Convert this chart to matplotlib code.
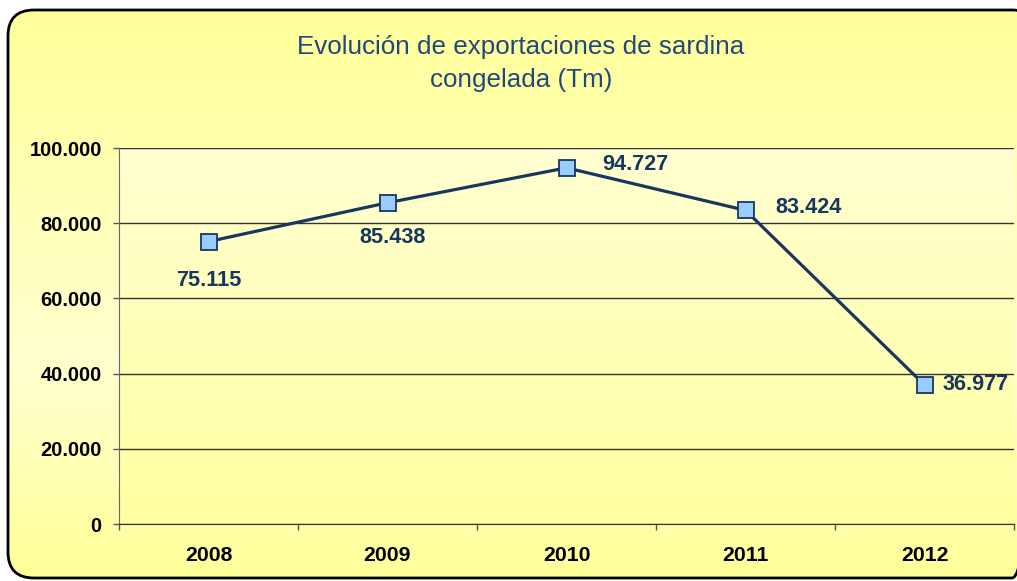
import matplotlib
matplotlib.use('Agg')
import matplotlib.pyplot as plt
import numpy as np
from matplotlib.patches import FancyBboxPatch
from matplotlib.ticker import FixedLocator, FuncFormatter
from matplotlib.colors import LinearSegmentedColormap

years = ['2008', '2009', '2010', '2011', '2012']
toneladas = [75115, 85438, 94727, 83424, 36977]
y_ticks = [0, 20000, 40000, 60000, 80000, 100000]

NAVY = '#17375E'
FONT = 'Liberation Sans'


def miles(v, pos=None):
    return f'{int(v):,}'.replace(',', '.')


W, H = 1017, 581
fig = plt.figure(figsize=(W / 100, H / 100), dpi=100)
fig.patch.set_facecolor('white')

# outer rounded chart area with vertical gradient (pixel coordinates)
bg = fig.add_axes([0, 0, 1, 1])
bg.set_xlim(0, W)
bg.set_ylim(H, 0)
bg.axis('off')
outer_cmap = LinearSegmentedColormap.from_list(
    'outer', [(0, '#FFFF99'), (0.62, '#FFFFD0'), (1, '#FFFF99')])
grad = np.linspace(0, 1, 256).reshape(-1, 1)
frame = FancyBboxPatch((8, 10), 1030, 568, boxstyle='round,pad=0,rounding_size=26',
                       facecolor='none', edgecolor='black', linewidth=2, zorder=3)
img = bg.imshow(grad, cmap=outer_cmap, extent=[8, 1038, 578, 10], aspect='auto', zorder=1)
bg.add_patch(frame)
img.set_clip_path(frame)

bg.text(521, 47, 'Evolución de exportaciones de sardina', ha='center', va='center',
        fontsize=18.7, color='#1F497D', family=FONT)
bg.text(521, 80, 'congelada (Tm)', ha='center', va='center',
        fontsize=18.7, color='#1F497D', family=FONT)

# plot area
ax = fig.add_axes([119 / W, 1 - 524 / H, (1014 - 119) / W, (524 - 148) / H])
ax.patch.set_alpha(0)
x = np.arange(len(years))
ax.set_xlim(-0.5, len(years) - 0.5)
ax.set_ylim(0, 100000)

plot_cmap = LinearSegmentedColormap.from_list('plot', ['#FFFFA0', '#FFFFD2'])
ax.imshow(grad, cmap=plot_cmap, origin='lower', extent=[-0.5, len(years) - 0.5, 0, 100000],
          aspect='auto', zorder=0)

ax.yaxis.set_major_locator(FixedLocator(y_ticks))
ax.yaxis.set_major_formatter(FuncFormatter(miles))
ax.yaxis.grid(True, color='#333333', linewidth=1)
ax.set_axisbelow(True)

ax.xaxis.set_major_locator(FixedLocator(np.arange(len(years) + 1) - 0.5))
ax.xaxis.set_major_formatter(FuncFormatter(lambda v, p: ''))
ax.xaxis.set_minor_locator(FixedLocator(x))
ax.set_xticks(x, years, minor=True)
ax.tick_params(axis='x', which='minor', length=0, pad=16)
ax.tick_params(axis='both', which='major', length=4.5, width=1, color='#555555', direction='out')
ax.tick_params(axis='y', pad=8)

for lbl in ax.get_yticklabels():
    lbl.set_fontsize(14.5)
    lbl.set_fontweight('bold')
    lbl.set_family(FONT)
for lbl in ax.get_xticklabels(minor=True):
    lbl.set_fontsize(15.3)
    lbl.set_fontweight('bold')
    lbl.set_family(FONT)

for s in ['top', 'right']:
    ax.spines[s].set_visible(False)
ax.spines['left'].set_color('#666666')
ax.spines['bottom'].set_color('#333333')

ax.plot(x, toneladas, color=NAVY, linewidth=2.3, marker='s', markersize=11,
        markerfacecolor='#99CCFF', markeredgecolor=NAVY, markeredgewidth=1.3,
        zorder=3, clip_on=False)

# label offsets in pixels
offsets = [(0, -39), (5, -35), (69, 3), (63, 3), (51, 0)]
for xi, v, (dx, dy) in zip(x, toneladas, offsets):
    ax.annotate(miles(v), (xi, v), xytext=(dx, dy), textcoords='offset pixels',
                ha='center', va='center', fontsize=15.6, fontweight='bold',
                color=NAVY, family=FONT, zorder=4)

fig.savefig('out.png', dpi=100, facecolor='white')
